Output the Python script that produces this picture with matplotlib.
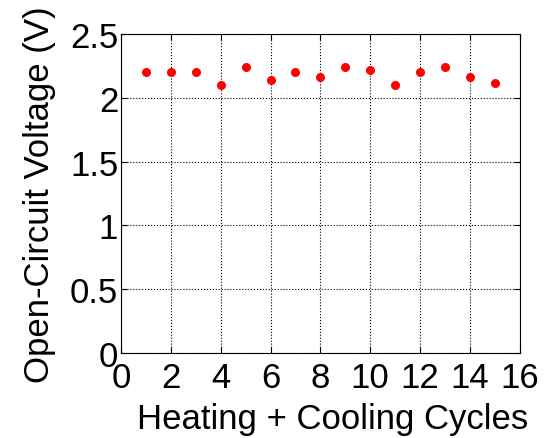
import matplotlib.pyplot as plt

plt.rcParams['font.family'] = ['Liberation Sans', 'DejaVu Sans']

cycles = [1, 2, 3, 4, 5, 6, 7, 8, 9, 10, 11, 12, 13, 14, 15]
voltage = [2.2, 2.2, 2.2, 2.1, 2.24, 2.14, 2.2, 2.16, 2.24, 2.22, 2.1, 2.2, 2.24, 2.16, 2.12]
xticks = [0, 2, 4, 6, 8, 10, 12, 14, 16]
yticks = [0, 0.5, 1, 1.5, 2, 2.5]

fig = plt.figure(figsize=(5.46, 4.39), dpi=100)
ax = fig.add_axes([0.2216, 0.1936, 0.7304, 0.7264])

ax.plot(cycles, voltage, 'o', color='red', markersize=6.5, markeredgewidth=0)

ax.set_xlim(0, 16)
ax.set_ylim(0, 2.5)
ax.set_xticks(xticks)
ax.set_yticks(yticks)
ax.set_xticklabels([str(t) for t in xticks])
ax.set_yticklabels(['0', '0.5', '1', '1.5', '2', '2.5'])
ax.grid(True, color='black', linestyle=':', linewidth=0.8)
ax.tick_params(direction='in', length=4, width=0.8, labelsize=25, top=True, right=True)
ax.tick_params(axis='x', pad=6)
ax.tick_params(axis='y', pad=2)
for s in ax.spines.values():
    s.set_linewidth(0.8)

# label sits a bit right of centre in the original
ax.set_xlabel('Heating + Cooling Cycles', fontsize=25, labelpad=5.5, x=0.53)
ax.set_ylabel('Open-Circuit Voltage (V)', fontsize=25, labelpad=10)

fig.savefig('out.png', dpi=100)
